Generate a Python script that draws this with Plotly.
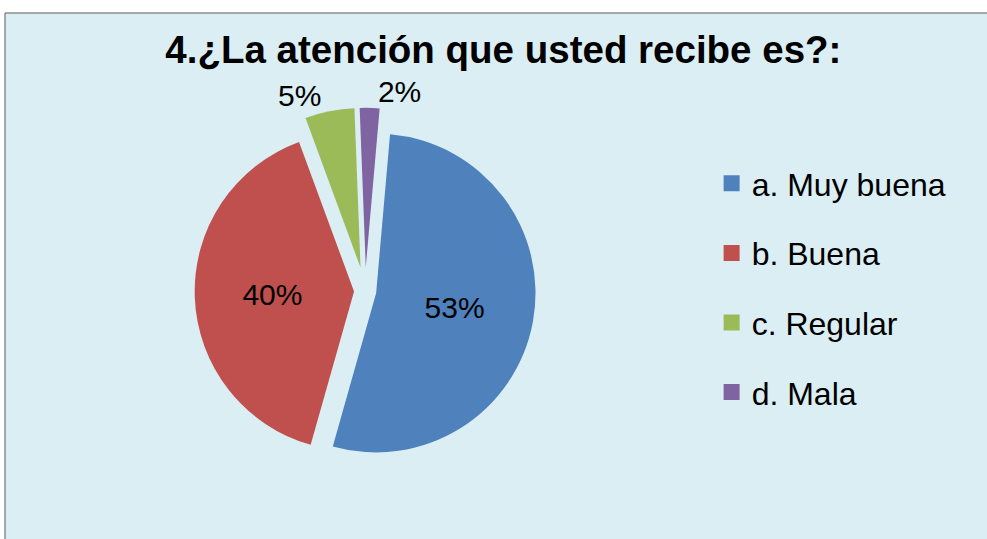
import plotly.graph_objects as go

categories = ["a. Muy buena", "b. Buena", "c. Regular", "d. Mala"]
values = [53, 40, 5, 2]
colors = ["#4F81BD", "#C0504D", "#9BBB59", "#8064A2"]
title_text = "4.¿La atención que usted recibe es?:"

W, H = 987, 539
FONT = "Liberation Sans, Arial, sans-serif"

fig = go.Figure()

fig.add_trace(go.Pie(
    labels=categories,
    values=values,
    marker=dict(colors=colors, line=dict(width=0)),
    sort=False,
    direction="clockwise",
    rotation=5,
    pull=[0.07, 0.07, 0.15, 0.15],
    texttemplate="%{percent:.0%}",
    textposition=["inside", "inside", "outside", "outside"],
    insidetextorientation="horizontal",
    textfont=dict(family=FONT, size=30, color="black"),
    domain=dict(x=[0.18, 0.56], y=[0.12, 0.80]),
    showlegend=False,
    hoverinfo="label+percent",
))

# legend entries (one per category)
for cat, col in zip(categories, colors):
    fig.add_trace(go.Scatter(
        x=[None], y=[None], mode="markers", name=cat,
        marker=dict(symbol="square", size=16, color=col),
        legendgroup=cat, showlegend=True,
    ))

fig.update_layout(
    width=W, height=H,
    margin=dict(l=0, r=0, t=0, b=0),
    paper_bgcolor="white",
    plot_bgcolor="rgba(0,0,0,0)",
    xaxis=dict(visible=False),
    yaxis=dict(visible=False),
    title=dict(
        text=title_text,
        x=0.51, xanchor="center",
        y=1 - 50 / H, yanchor="middle",
        font=dict(family=FONT, size=38.5, color="black", weight="bold"),
    ),
    legend=dict(
        x=0.721, xanchor="left",
        y=1 - 156 / H, yanchor="top",
        font=dict(family=FONT, size=32, color="black"),
        bgcolor="rgba(0,0,0,0)",
        tracegroupgap=25,
        itemsizing="trace",
    ),
    shapes=[
        # panel background
        dict(type="rect", xref="paper", yref="paper",
             x0=5 / W, x1=1.0, y0=0, y1=1 - 13 / H,
             fillcolor="#DBEEF4", line=dict(width=0), layer="below"),
        # left border
        dict(type="line", xref="paper", yref="paper",
             x0=5 / W, x1=5 / W, y0=0, y1=1 - 13 / H,
             line=dict(color="#8C8C8C", width=1.5), layer="below"),
        # top border
        dict(type="line", xref="paper", yref="paper",
             x0=5 / W, x1=1.0, y0=1 - 13 / H, y1=1 - 13 / H,
             line=dict(color="#8C8C8C", width=1.5), layer="below"),
    ],
)

fig.write_html("out.html", config={"displayModeBar": False},
               post_script="document.body.style.margin='0';document.body.style.overflow='hidden';")
